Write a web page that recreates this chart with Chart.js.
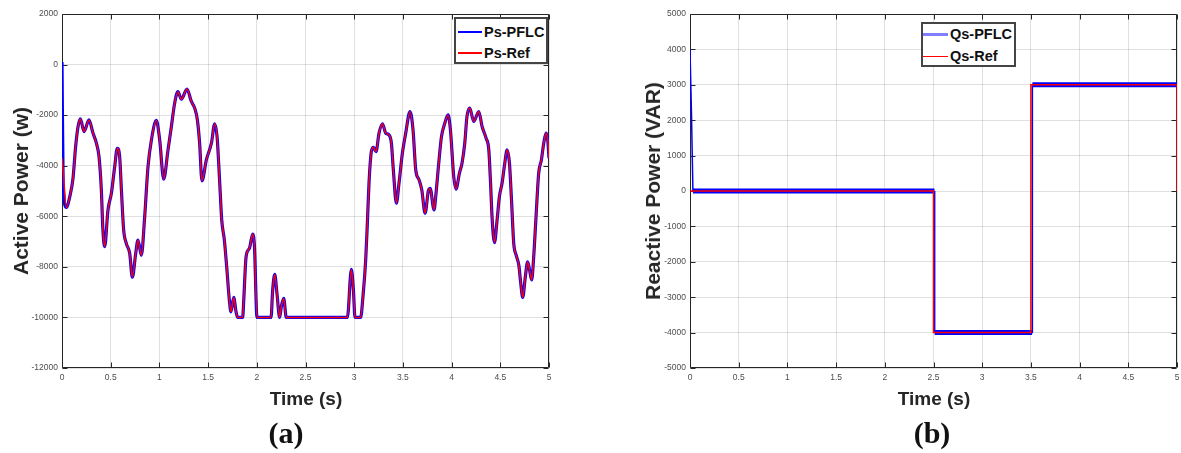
<!DOCTYPE html>
<html>
<head>
<meta charset="utf-8">
<script src="https://cdn.jsdelivr.net/npm/chart.js@4.4.1/dist/chart.umd.min.js"></script>
<style>
body { margin: 0; background: #fff; width: 1181px; height: 453px; position: relative; overflow: hidden; font-family: 'Liberation Sans', Arial, sans-serif; }
canvas { position: absolute; top: 0; }
.ytitle { position: absolute; font-weight: bold; font-size: 21px; line-height: 24px; color: #262626; white-space: nowrap; transform: translate(-50%, -50%) rotate(-90deg); }
.xtitle { position: absolute; font-weight: bold; font-size: 19px; line-height: 19px; color: #262626; white-space: nowrap; transform: translateX(-50%); }
.cap { position: absolute; font-family: 'Liberation Serif', 'Times New Roman', serif; font-weight: bold; font-size: 30px; line-height: 30px; color: #111; transform: translateX(-50%); }
.legend { position: absolute; background: #fff; border: 2px solid #444; box-sizing: border-box; }
.lline { position: absolute; }
.ltext { position: absolute; font-weight: bold; font-size: 14.5px; line-height: 16px; color: #111; white-space: nowrap; }
</style>
</head>
<body>
<canvas id="chartP" width="560" height="392" style="left:0px"></canvas>
<canvas id="chartQ" width="561" height="392" style="left:620px"></canvas>

<div class="ytitle" style="left:21px; top:191px">Active Power (w)</div>
<div class="ytitle" style="left:653px; top:191px">Reactive Power (VAR)</div>
<div class="xtitle" style="left:306px; top:389px">Time (s)</div>
<div class="xtitle" style="left:934px; top:389px">Time (s)</div>
<div class="cap" style="left:286px; top:418px">(a)</div>
<div class="cap" style="left:932px; top:418px">(b)</div>

<div class="legend" style="left:454px; top:17px; width:94px; height:47px"></div>
<div class="lline" style="left:458px; top:31px; width:24px; height:2px; background:#0000ff"></div>
<div class="ltext" style="left:484px; top:24px">Ps-PFLC</div>
<div class="lline" style="left:458px; top:52px; width:24px; height:1.5px; background:#ff0000"></div>
<div class="ltext" style="left:484px; top:45px">Ps-Ref</div>

<div class="legend" style="left:921px; top:22px; width:95px; height:45px"></div>
<div class="lline" style="left:923px; top:33px; width:25px; height:3px; background:#7f7fff"></div>
<div class="ltext" style="left:950px; top:26px">Qs-PFLC</div>
<div class="lline" style="left:923px; top:55.5px; width:25px; height:1px; background:#ff0000"></div>
<div class="ltext" style="left:950px; top:48px">Qs-Ref</div>

<script>
// ---- (a) active power ----
var psTime = [0, 0.012, 0.045, 0.08, 0.113, 0.14, 0.165, 0.189, 0.226, 0.277, 0.318, 0.353, 0.38, 0.404, 0.42, 0.438,
  0.472, 0.507, 0.541, 0.568, 0.592, 0.61, 0.633, 0.66, 0.695, 0.722, 0.757, 0.78, 0.815, 0.849, 0.883, 0.918, 0.969,
  1.003, 1.044, 1.088, 1.123, 1.157, 1.19, 1.226, 1.283, 1.328, 1.362, 1.39, 1.413, 1.437, 1.482, 1.534, 1.568, 1.592,
  1.616, 1.64, 1.667, 1.691, 1.718, 1.735, 1.763, 1.787, 1.804, 1.855, 1.866, 1.89, 1.924, 1.958, 1.976, 2.002, 2.146,
  2.163, 2.184, 2.207, 2.235, 2.252, 2.276, 2.303, 2.93, 2.971, 2.992, 3.008, 3.066, 3.09, 3.118, 3.135, 3.152, 3.176,
  3.197, 3.224, 3.255, 3.29, 3.323, 3.357, 3.382, 3.402, 3.433, 3.46, 3.495, 3.529, 3.573, 3.604, 3.632, 3.666, 3.694,
  3.728, 3.763, 3.78, 3.82, 3.84, 3.868, 3.896, 3.93, 3.964, 3.988, 4.022, 4.045, 4.08, 4.107, 4.135, 4.158, 4.186,
  4.227, 4.279, 4.313, 4.354, 4.382, 4.4, 4.415, 4.44, 4.467, 4.491, 4.518, 4.546, 4.57, 4.594, 4.615, 4.638, 4.662,
  4.69, 4.71, 4.73, 4.757, 4.781, 4.801, 4.822, 4.843, 4.867, 4.894, 4.922, 4.946, 4.97, 4.987, 5.0];
var psRef = [-3700, -4200, -5650, -5220, -4500, -3240, -2450, -2150, -2650, -2190, -2710, -3110, -3640, -4960, -6540, -7200,
  -5750, -5090, -4040, -3310, -3640, -4960, -6540, -7070, -7460, -8410, -7460, -6940, -7540, -6010, -4040, -2980, -2210,
  -2980, -4530, -3390, -2450, -1520, -1070, -1370, -970, -1460, -1720, -2190, -3110, -4600, -3770, -3110, -2340, -2850,
  -4430, -6150, -6940, -8000, -9310, -9780, -9210, -9780, -10000, -10000, -9310, -7600, -7270, -6700, -7200, -10000, -10000,
  -8920, -8300, -9050, -10000, -9570, -9250, -10000, -10000, -8100, -8920, -10000, -10000, -9180, -7730, -6280, -4690, -3440,
  -3270, -3440, -2710, -2340, -2710, -2780, -3110, -4170, -5480, -4690, -3500, -2710, -1860, -2580, -4170, -4560, -4960,
  -5880, -4960, -4900, -5750, -5090, -3900, -2850, -2320, -1990, -2580, -4430, -4930, -4300, -3900, -3110, -2050, -1720,
  -2250, -1860, -2450, -2910, -3370, -4690, -6010, -7040, -6150, -5220, -4690, -3900, -3370, -3900, -5350, -7070, -7530,
  -7930, -8650, -9210, -8390, -7800, -8130, -8520, -7600, -6010, -4300, -3770, -3110, -2710, -2980, -3700];
// PFLC follows the reference except for the start-up spike
var psPflcStartTime = [0, 0.012];
var psPflcStart = [100, -4800];
var psYTicks = [2000, 0, -2000, -4000, -6000, -8000, -10000, -12000];

// ---- (b) reactive power ----
var qsRefTime = [0, 2.5, 2.5, 3.5, 3.5, 5, 5];
var qsRef = [0, 0, -4000, -4000, 3000, 3000, 0];
var qsPflcTime = [0, 0.015, 0.03, 2.51, 2.512, 3.512, 3.515, 5];
var qsPflc = [4000, 2200, 0, 0, -4000, -4000, 3000, 3000];
var qsYTicks = [5000, 4000, 3000, 2000, 1000, 0, -1000, -2000, -3000, -4000, -5000];

var timeTicks = [0, 0.5, 1, 1.5, 2, 2.5, 3, 3.5, 4, 4.5, 5];

function pts(xs, ys) {
  return xs.map(function (x, i) { return { x: x, y: ys[i] }; });
}

// MATLAB style box with inward ticks, drawn under the lines
var matlabBox = {
  id: 'matlabBox',
  beforeDatasetsDraw: function (chart) {
    var ctx = chart.ctx, a = chart.chartArea, sx = chart.scales.x, sy = chart.scales.y;
    var L = Math.round(a.left) + 0.5, R = Math.round(a.right) - 0.5;
    var T = Math.round(a.top) + 0.5, B = Math.round(a.bottom) - 0.5;
    ctx.save();
    ctx.strokeStyle = '#262626';
    ctx.lineWidth = 1;
    ctx.beginPath();
    ctx.rect(L, T, R - L, B - T);
    sx.ticks.forEach(function (t) {
      var p = Math.round(sx.getPixelForValue(t.value)) + 0.5;
      ctx.moveTo(p, B); ctx.lineTo(p, B - 5);
      ctx.moveTo(p, T); ctx.lineTo(p, T + 5);
    });
    sy.ticks.forEach(function (t) {
      var p = Math.round(sy.getPixelForValue(t.value)) + 0.5;
      ctx.moveTo(L, p); ctx.lineTo(L + 5, p);
      ctx.moveTo(R, p); ctx.lineTo(R - 5, p);
    });
    ctx.stroke();
    ctx.restore();
  }
};

function makeOptions(yMin, yMax, yTicks, yWidth, rightPad) {
  var tickFont = { family: 'Liberation Sans', size: 8.5 };
  return {
    responsive: false,
    animation: false,
    devicePixelRatio: 1,
    layout: { padding: { top: 14, right: rightPad, left: 0, bottom: 0 } },
    plugins: { legend: { display: false }, tooltip: { enabled: false } },
    elements: { point: { radius: 0 }, line: { tension: 0 } },
    scales: {
      x: {
        type: 'linear', min: 0, max: 5,
        afterBuildTicks: function (s) { s.ticks = timeTicks.map(function (v) { return { value: v }; }); },
        afterFit: function (s) {
          s.height = 24;
          s.paddingLeft = 0; s.paddingRight = 0;
        },
        ticks: { padding: 5, color: '#4d4d4d', font: tickFont, maxRotation: 0, autoSkip: false,
          callback: function (v) { return String(v); } },
        grid: { color: 'rgba(0,0,0,0.12)', drawTicks: false },
        border: { display: false }
      },
      y: {
        type: 'linear', min: yMin, max: yMax,
        afterBuildTicks: function (s) { s.ticks = yTicks.map(function (v) { return { value: v }; }); },
        afterFit: function (s) {
          s.width = yWidth;
          s.paddingTop = 0; s.paddingBottom = 0;
        },
        ticks: { padding: 4, color: '#4d4d4d', font: tickFont, autoSkip: false,
          callback: function (v) { return String(v); } },
        grid: { color: 'rgba(0,0,0,0.12)', drawTicks: false },
        border: { display: false }
      }
    }
  };
}

new Chart(document.getElementById('chartP'), {
  type: 'line',
  data: {
    datasets: [
      {
        label: 'Ps-PFLC',
        data: pts(psPflcStartTime, psPflcStart).concat(pts(psTime.slice(2), psRef.slice(2))),
        borderColor: '#0000ff', borderWidth: 3.2, order: 2,
        cubicInterpolationMode: 'monotone'
      },
      {
        label: 'Ps-Ref',
        data: pts(psTime, psRef),
        borderColor: '#ff0000', borderWidth: 1.5, order: 1,
        cubicInterpolationMode: 'monotone'
      }
    ]
  },
  options: makeOptions(-12000, 2000, psYTicks, 62, 11),
  plugins: [matlabBox]
});

new Chart(document.getElementById('chartQ'), {
  type: 'line',
  data: {
    datasets: [
      {
        label: 'Qs-PFLC',
        data: pts(qsPflcTime, qsPflc),
        borderColor: '#0000ff', borderWidth: 5, order: 2,
        segment: {
          borderWidth: function (c) { return Math.abs(c.p0.parsed.y - c.p1.parsed.y) < 1 ? 5 : 1.5; }
        }
      },
      {
        label: 'Qs-Ref',
        data: pts(qsRefTime, qsRef),
        borderColor: '#ff0000', borderWidth: 1.5, order: 1
      }
    ]
  },
  options: makeOptions(-5000, 5000, qsYTicks, 70, 4),
  plugins: [matlabBox]
});
</script>
</body>
</html>
